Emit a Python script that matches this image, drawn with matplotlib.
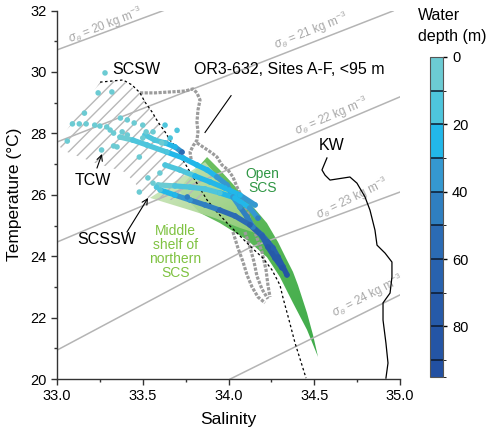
import numpy as np
import matplotlib
matplotlib.use("Agg")
import matplotlib.pyplot as plt
from matplotlib.colors import ListedColormap, BoundaryNorm, LinearSegmentedColormap
from matplotlib.collections import LineCollection
from matplotlib.patches import Polygon
from matplotlib.cm import ScalarMappable

plt.rcParams['font.family'] = ['Liberation Sans', 'DejaVu Sans']
plt.rcParams['mathtext.fontset'] = 'custom'
plt.rcParams['mathtext.rm'] = 'Liberation Sans'
plt.rcParams['mathtext.it'] = 'Liberation Sans:italic'

# depth colour scale
depth_bounds = [0, 10, 20, 30, 40, 50, 60, 70, 80, 90, 95]
depth_colors = ['#6ccbd3', '#4ec5dc', '#22b7e9', '#3598d0', '#2f7fc0',
                '#2b6bb4', '#2862ae', '#265aa8', '#2455a5', '#2250a2']

# isopycnals (sigma-theta)
sigma_levels = [20, 21, 22, 23, 24]
iso_S = [[33.0, 33.62], [33.0, 34.96], [33.0, 35.0], [33.0, 34.12, 35.0], [34.01, 35.0]]
iso_T = [[30.72, 32.0], [27.72, 31.99], [24.46, 29.19], [20.94, 24.27, 26.09], [20.0, 22.74]]

# Kuroshio water
kw_S = [34.574, 34.545, 34.563, 34.592, 34.708, 34.749, 34.796, 34.825, 34.854, 34.866,
        34.913, 34.953, 34.953, 34.942, 34.901, 34.901, 34.918, 34.930, 34.918]
kw_T = [27.20, 26.81, 26.64, 26.48, 26.58, 26.38, 25.93, 25.50, 24.85, 24.36,
        24.10, 23.81, 23.32, 22.80, 22.48, 21.92, 21.17, 20.52, 20.03]

# dotted envelope
env_S = [33.251, 33.385, 33.437, 33.484, 33.513, 33.554, 33.589, 33.630, 33.659, 33.700,
         33.735, 33.776, 33.822, 33.875, 33.933, 33.997, 34.067, 34.137, 34.201, 34.254,
         34.300, 34.318, 34.353, 34.388, 34.423, 34.452]
env_T = [29.67, 29.74, 29.58, 29.32, 29.02, 28.70, 28.37, 28.05, 27.78, 27.52,
         27.13, 26.74, 26.32, 25.83, 25.44, 25.05, 24.66, 24.27, 23.94, 23.55,
         23.06, 22.64, 21.92, 21.17, 20.55, 20.03]

# OR3-632 CTD (grey)
or3_S = [
    [33.484, 33.571, 33.659, 33.746, 33.793, 33.816, 33.834, 33.822, 33.816, 33.822, 33.816, 33.793, 33.776, 33.782],
    [33.816, 33.851, 33.904, 33.933, 33.962, 33.997, 34.026, 34.050, 34.067, 34.085, 34.108, 34.125, 34.160, 34.195, 34.219, 34.230, 34.242],
    [34.026, 34.055, 34.085, 34.108, 34.137, 34.172, 34.213],
    [34.096, 34.125, 34.149, 34.166, 34.195, 34.230],
]
or3_T = [
    [29.32, 29.32, 29.35, 29.38, 29.45, 29.32, 29.09, 28.76, 28.37, 28.05, 27.78, 27.59, 27.39, 27.16],
    [27.69, 27.56, 27.36, 27.23, 26.97, 26.81, 26.58, 26.25, 26.06, 25.73, 25.50, 25.18, 24.69, 24.14, 23.55, 23.06, 22.67],
    [24.79, 24.27, 23.81, 23.39, 23.00, 22.67, 22.48],
    [24.79, 24.30, 23.81, 23.35, 22.93, 22.61],
]

# water mass fields
open_S = [33.875, 33.950, 34.026, 34.125, 34.224, 34.289, 34.335, 34.376, 34.405, 34.458,
          34.493, 34.522, 34.458, 34.376, 34.300, 34.224, 34.108, 33.950, 33.834, 33.706]
open_T = [27.23, 26.81, 26.35, 25.73, 25.08, 24.46, 23.94, 23.49, 23.06, 22.15,
          21.43, 20.72, 21.60, 22.48, 23.32, 23.97, 24.53, 25.08, 25.41, 26.16]
shelf_S = [33.542, 33.863, 33.980, 34.096, 34.195, 34.067, 33.921, 33.776, 33.659]
shelf_T = [25.90, 27.07, 26.32, 25.50, 24.69, 24.92, 25.24, 25.50, 25.70]
hatch_S = [33.006, 33.251, 33.385, 33.484, 33.554, 33.630, 33.717, 33.805, 33.863,
           33.542, 33.397, 33.222, 33.029]
hatch_T = [27.69, 29.67, 29.71, 29.32, 28.70, 28.05, 27.30, 26.48, 25.83,
           25.83, 26.74, 27.04, 27.46]

# sediment-trap site profiles, coloured by depth (m)
track_S = [
    [33.513, 33.571, 33.630, 33.688, 33.729],
    [33.367, 33.443, 33.525, 33.641, 33.735, 33.816, 33.875, 33.933, 33.991, 34.026,
     34.067, 34.108, 34.143, 34.195, 34.230, 34.259, 34.289, 34.318, 34.341],
    [33.601, 33.688, 33.776, 33.863, 33.950, 34.038, 34.125, 34.195, 34.230, 34.271, 34.312],
    [33.589, 33.688, 33.776, 33.863, 33.950, 34.038, 34.125, 34.172],
    [33.630, 33.717, 33.805, 33.892, 33.980, 34.067, 34.155],
]
track_T = [
    [27.95, 27.78, 27.69, 27.56, 27.39],
    [27.88, 27.78, 27.62, 27.39, 27.20, 26.97, 26.81, 26.58, 26.32, 25.93,
     25.60, 25.28, 24.95, 24.69, 24.46, 24.27, 23.97, 23.65, 23.39],
    [26.16, 25.99, 25.83, 25.67, 25.50, 25.31, 25.02, 24.66, 24.30, 23.94, 23.62],
    [26.32, 26.29, 26.25, 26.19, 26.06, 25.90, 25.57, 25.24],
    [26.97, 26.81, 26.61, 26.42, 26.22, 25.99, 25.67],
]
track_D = [
    [12, 15, 18, 22, 50],
    [8, 10, 14, 18, 22, 25, 28, 30, 32, 35, 38, 42, 48, 55, 60, 65, 70, 78, 85],
    [15, 25, 35, 45, 50, 55, 60, 65, 70, 75, 80],
    [8, 10, 12, 15, 18, 22, 30, 40],
    [15, 18, 20, 22, 25, 28, 35],
]

dot_S = [33.28, 33.24, 33.32, 33.16, 33.37, 33.06, 33.41, 33.45, 33.50, 33.52,
         33.50, 33.56, 33.38, 33.41, 33.33, 33.35, 33.26, 33.48, 33.61, 33.66,
         33.09, 33.13, 33.17, 33.22, 33.25, 33.29, 33.31, 33.33,
         33.48, 33.58, 33.60, 33.56, 33.53, 33.63, 33.70, 33.76]
dot_T = [29.97, 29.32, 29.35, 28.66, 28.50, 27.75, 28.44, 28.34, 28.27, 28.05,
         27.85, 28.05, 28.05, 27.95, 27.59, 27.56, 27.46, 27.23, 27.69, 27.85,
         28.31, 28.31, 28.31, 28.27, 28.24, 28.21, 28.11, 28.01,
         26.09, 26.25, 26.71, 26.38, 26.55, 28.27, 28.10, 25.93]
dot_D = [3, 4, 4, 4, 5, 3, 5, 6, 6, 7,
         7, 8, 5, 5, 4, 4, 5, 6, 9, 12,
         4, 4, 4, 4, 5, 5, 6, 6,
         8, 10, 9, 9, 8, 10, 12, 45]

cmap = ListedColormap(depth_colors)
norm = BoundaryNorm(depth_bounds, cmap.N)

fig = plt.figure(figsize=(5.0, 4.36), dpi=100)
ax = fig.add_axes([0.114, 0.1307, 0.686, 0.845])


def gradient_fill(xs, ys, c0, c1, alpha, zorder):
    patch = Polygon(np.column_stack([xs, ys]), closed=True, facecolor='none', edgecolor='none')
    ax.add_patch(patch)
    xx, yy = np.meshgrid(np.linspace(0, 1, 120), np.linspace(0, 1, 120))
    grad = (xx + (1 - yy)) / 2
    im = ax.imshow(grad, extent=[min(xs), max(xs), min(ys), max(ys)], origin='lower',
                   cmap=LinearSegmentedColormap.from_list('g', [c0, c1]),
                   aspect='auto', alpha=alpha, zorder=zorder, interpolation='bilinear')
    im.set_clip_path(patch)


gradient_fill(open_S, open_T, '#72c263', '#3eab4a', 1.0, 1)
gradient_fill(shelf_S, shelf_T, '#d3e9c2', '#93cc78', 0.9, 1.5)

# isopycnals
label_pos = [(33.28, 31.53, 21), (34.48, 31.34, 21.5), (34.60, 28.57, 23),
             (34.72, 25.86, 26), (34.81, 22.70, 27)]
for lev, xs, ys, (lx, ly, rot) in zip(sigma_levels, iso_S, iso_T, label_pos):
    ax.plot(xs, ys, color='#b4b4b4', lw=1.1, zorder=2)
    ax.text(lx, ly, r'$\sigma_\theta$ = %d kg m$^{-3}$' % lev, color='#a8a8a8', fontsize=8.5,
            rotation=rot, ha='center', va='center', rotation_mode='anchor', zorder=2)

# hatched field
hpatch = Polygon(np.column_stack([hatch_S, hatch_T]), closed=True, facecolor='none', edgecolor='none')
ax.add_patch(hpatch)
k = 171.5 / 30.7
for c in np.arange(32.2, 34.0, 0.073):
    s = np.array([c, c + 1.5])
    hl, = ax.plot(s, 25.0 + k * (s - c), color='#b8b8b8', lw=1.0, zorder=2.5)
    hl.set_clip_path(hpatch)

# grey CTD data
for xs, ys in zip(or3_S, or3_T):
    ax.plot(xs, ys, color='#9c9c9c', lw=2.3, ls=(0, (1, 0.45)), zorder=3)

ax.plot(env_S, env_T, color='black', lw=0.9, ls=(0, (2, 2)), zorder=3.5)
ax.plot(kw_S, kw_T, color='black', lw=0.9, zorder=3.5)

# coloured profiles
for xs, ys, ds in zip(track_S, track_T, track_D):
    pts = np.column_stack([xs, ys])
    segs = np.stack([pts[:-1], pts[1:]], axis=1)
    dmid = (np.array(ds[:-1]) + np.array(ds[1:])) / 2
    lc = LineCollection(segs, colors=cmap(norm(dmid)), linewidths=3.8, capstyle='round', zorder=4)
    ax.add_collection(lc)
    ax.scatter(xs, ys, c=ds, cmap=cmap, norm=norm, s=16, linewidths=0, zorder=4.2)
ax.scatter(dot_S, dot_T, c=dot_D, cmap=cmap, norm=norm, s=16, linewidths=0, zorder=4.2)

# labels
ax.text(33.46, 30.07, 'SCSW', fontsize=11.5, ha='center', va='center')
ax.text(33.80, 30.07, 'OR3-632, Sites A-F, <95 m', fontsize=11.5, ha='left', va='center')
ax.text(33.21, 26.48, 'TCW', fontsize=11.5, ha='center', va='center')
ax.text(33.29, 24.53, 'SCSSW', fontsize=11.5, ha='center', va='center')
ax.text(34.60, 27.62, 'KW', fontsize=11.5, ha='center', va='center')
ax.text(34.20, 26.45, 'Open\nSCS', fontsize=10, color='#2f9644', ha='center', va='center',
        linespacing=1.0)
ax.text(33.69, 24.14, 'Middle\nshelf of\nnorthern\nSCS', fontsize=10, color='#7fc241',
        ha='center', va='center', linespacing=1.0)
arrow = dict(arrowstyle='->', lw=0.8, color='black', shrinkA=0, shrinkB=0)
ax.annotate('', xy=(33.262, 27.33), xytext=(33.233, 26.87), arrowprops=arrow)
ax.annotate('', xy=(33.531, 25.90), xytext=(33.408, 24.79), arrowprops=arrow)
ax.plot([34.015, 33.863], [29.23, 28.03], color='black', lw=0.8)

ax.set_xlim(33.0, 35.0)
ax.set_ylim(20, 32)
ax.set_xticks(np.arange(33.0, 35.01, 0.5))
ax.set_xticks(np.arange(33.0, 35.01, 0.25), minor=True)
ax.set_xticklabels(['%.1f' % v for v in np.arange(33.0, 35.01, 0.5)])
ax.set_yticks(np.arange(20, 33, 2))
ax.set_yticks(np.arange(20, 33, 1), minor=True)
ax.tick_params(which='major', length=4, width=1, labelsize=10.5, color='#333333')
ax.tick_params(which='minor', length=2.5, width=1, color='#333333')
for side in ['top', 'right']:
    ax.spines[side].set_visible(False)
for side in ['left', 'bottom']:
    ax.spines[side].set_color('#333333')
    ax.spines[side].set_linewidth(1)
ax.set_xlabel('Salinity', fontsize=12.5, labelpad=6)
ax.set_ylabel('Temperature (\u00b0C)', fontsize=12.5, labelpad=6)

# colour bar
cax = fig.add_axes([0.86, 0.1353, 0.026, 0.734])
cb = fig.colorbar(ScalarMappable(norm=norm, cmap=cmap), cax=cax,
                  spacing='proportional', ticks=[0, 20, 40, 60, 80])
cax.invert_yaxis()
cax.hlines(depth_bounds[1:-1], 0, 1, transform=cax.get_yaxis_transform(),
           colors='#0c1a2e', linewidths=1.1)
cb.outline.set_edgecolor('#555555')
cb.outline.set_linewidth(0.8)
cax.tick_params(labelsize=10.5, length=3, width=1)
fig.text(0.836, 1 - 15 / 436, 'Water', fontsize=11.5, ha='left', va='center')
fig.text(0.836, 1 - 37 / 436, 'depth (m)', fontsize=11.5, ha='left', va='center')

fig.savefig('out.png', dpi=100)
